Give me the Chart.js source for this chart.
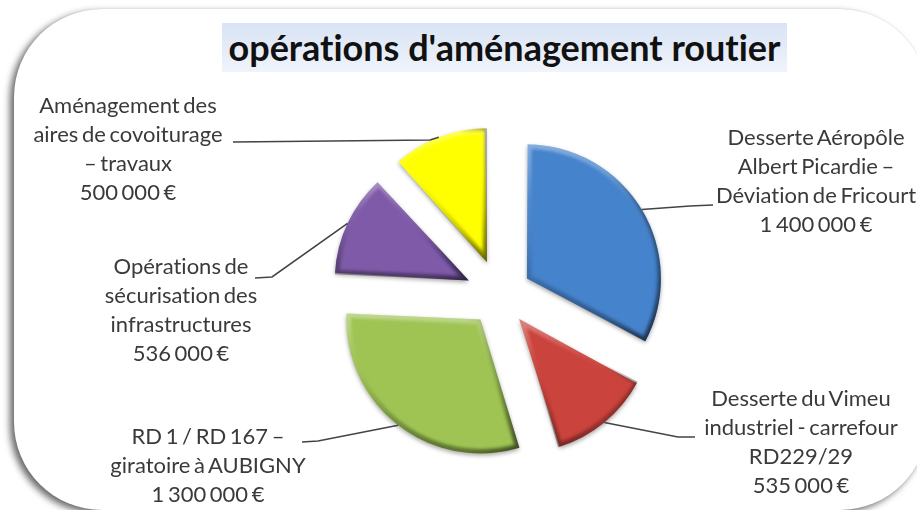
<!DOCTYPE html>
<html lang="fr">
<head>
<meta charset="utf-8">
<title>opérations d'aménagement routier</title>
<script src="https://cdn.jsdelivr.net/npm/chart.js@4"></script>
<style>
    html, body { margin: 0; padding: 0; background: #fff; overflow: hidden; }
    #root { position: relative; width: 917px; height: 510px; overflow: hidden; filter: blur(0.7px); }
    #card {
        position: absolute; left: 14px; top: 9px; width: 914px; height: 501px;
        border-radius: 88px; background: #fff;
        box-shadow: -4px 3px 7px rgba(0, 0, 0, 0.6), 0 0 1px rgba(0, 0, 0, 0.2);
    }
    canvas { position: absolute; left: 0; top: 0; }
    #title {
        position: absolute; left: 222px; top: 23px; width: 565px; height: 49px;
        background: linear-gradient(#d8e3f4, #f0f4fc);
        font: bold 36px Lato, sans-serif; font-variant-ligatures: none;
        line-height: 49px; text-align: center;
        color: #111; white-space: nowrap;
    }
    .label {
        position: absolute; transform: translateX(-50%); text-align: center; white-space: nowrap;
        font: 22px/29px Lato, sans-serif; font-variant-ligatures: none;
        word-spacing: -2px; color: #3a3a3a;
    }
</style>
</head>
<body>
<div id="root">
    <div id="card"></div>
    <canvas id="chart" width="917" height="510"></canvas>
    <div id="title">opérations d'aménagement routier</div>
</div>
<script>
const categories = [
    ["Desserte Aéropôle", "Albert Picardie –", "Déviation de Fricourt", "1 400 000 €"],
    ["Desserte du Vimeu", "industriel - carrefour", "RD229/29", "535 000 €"],
    ["RD 1 / RD 167 –", "giratoire à AUBIGNY", "1 300 000 €"],
    ["Opérations de", "sécurisation des", "infrastructures", "536 000 €"],
    ["Aménagement des", "aires de covoiturage", "– travaux", "500 000 €"],
]
const amounts = [1400000, 535000, 1300000, 536000, 500000]

// look of each slice, same order as the categories
const colors = ["#4583cc", "#cb433d", "#9fc454", "#7e5aa8", "#ffff00"]
const explode = [32, 31, 31, 34, 35]

// where the label blocks sit: centre x, top y
const labelPos = [[816, 122], [801, 383], [208, 421], [181, 251], [128, 90]]
// elbow of the leader line and the end next to the label
const leaderElbow = [[690, 206], [678, 437], [318, 441], [272, 277], [430, 140]]
const leaderEnd = [[713, 205], [695, 437], [302, 442], [255, 278], [233, 142]]

const RADIUS = 134

/**
 * Arc draws a slice moved by offset / 4 and grows its radius a bit,
 * so take that growth back to keep the slices the same size
 */
const radiusFix = {
    id: "radiusFix",
    afterDatasetUpdate(chart) {
        chart.getDatasetMeta(0).data.forEach((arc, i) => {
            const fix = 1 - Math.sin(Math.min(Math.PI, arc.circumference))
            arc.outerRadius = RADIUS - explode[i] * fix
        })
    }
}

/**
 * Soft shadow under the slices, then the bevel on top of them
 */
const sliceLook = {
    id: "sliceLook",
    beforeDatasetDraw(chart) {
        const ctx = chart.ctx
        ctx.save()
        ctx.shadowColor = "rgba(0, 0, 0, 0.35)"
        ctx.shadowBlur = 4
        ctx.shadowOffsetY = 2
    },
    afterDatasetDraw(chart) {
        const ctx = chart.ctx
        ctx.restore()
        chart.getDatasetMeta(0).data.forEach((arc, i) => drawBevel(ctx, arc, explode[i]))
    }
}

/**
 * Stroke the inside of one slice, light on the upper side and dark on the lower one
 * @param {CanvasRenderingContext2D} ctx
 * @param {Object} arc
 * @param {Number} shift
 */
function drawBevel(ctx, arc, shift) {
    const mid = (arc.startAngle + arc.endAngle) / 2
    const x = arc.x + Math.cos(mid) * shift
    const y = arc.y + Math.sin(mid) * shift
    const rimY = [arc.startAngle, mid, arc.endAngle].map(a => y + Math.sin(a) * RADIUS)
    const rimX = [arc.startAngle, mid, arc.endAngle].map(a => x + Math.cos(a) * RADIUS)
    const top = Math.min(y, ...rimY)
    const bottom = Math.max(y, ...rimY)
    const right = Math.max(x, ...rimX)
    const left = Math.min(x, ...rimX)

    const path = new Path2D()
    path.moveTo(x, y)
    path.arc(x, y, RADIUS, arc.startAngle, arc.endAngle)
    path.closePath()

    const down = ctx.createLinearGradient(0, top, 0, bottom)
    down.addColorStop(0, "rgba(255, 255, 255, 0.35)")
    down.addColorStop(0.3, "rgba(255, 255, 255, 0.05)")
    down.addColorStop(0.6, "rgba(0, 0, 0, 0.1)")
    down.addColorStop(1, "rgba(0, 0, 0, 0.4)")

    const across = ctx.createLinearGradient(left, 0, right, 0)
    across.addColorStop(0, "rgba(0, 0, 0, 0)")
    across.addColorStop(0.7, "rgba(0, 0, 0, 0)")
    across.addColorStop(1, "rgba(0, 0, 0, 0.35)")

    ctx.save()
    ctx.clip(path)
    ctx.lineJoin = "miter"
    ctx.filter = "blur(1.5px)"
    ctx.lineWidth = 9
    ctx.strokeStyle = down
    ctx.stroke(path)
    ctx.lineWidth = 5
    ctx.strokeStyle = across
    ctx.stroke(path)
    ctx.restore()
}

/**
 * Lines from the middle of each slice's rim to its label
 */
const leaders = {
    id: "leaders",
    afterDatasetsDraw(chart) {
        const ctx = chart.ctx
        ctx.save()
        ctx.strokeStyle = "#444"
        ctx.lineWidth = 1.6
        chart.getDatasetMeta(0).data.forEach((arc, i) => {
            const mid = (arc.startAngle + arc.endAngle) / 2
            const r = RADIUS + explode[i]
            ctx.beginPath()
            ctx.moveTo(arc.x + Math.cos(mid) * r, arc.y + Math.sin(mid) * r)
            ctx.lineTo(...leaderElbow[i])
            ctx.lineTo(...leaderEnd[i])
            ctx.stroke()
        })
        ctx.restore()
    }
}

function addLabels(root) {
    categories.forEach((lines, i) => {
        const label = document.createElement("div")
        label.className = "label"
        label.style.left = labelPos[i][0] + "px"
        label.style.top = labelPos[i][1] + "px"
        lines.forEach(line => {
            const row = document.createElement("div")
            row.append(line)
            label.append(row)
        })
        root.append(label)
    })
}

function main() {
    addLabels(document.getElementById("root"))
    new Chart(document.getElementById("chart"), {
        type: "pie",
        data: {
            labels: categories.map(lines => lines.join(" ")),
            datasets: [{
                data: amounts,
                backgroundColor: colors,
                borderWidth: 0,
                offset: explode.map(d => d * 4),
                hoverOffset: 0
            }]
        },
        options: {
            responsive: false,
            animation: false,
            radius: RADIUS,
            layout: { padding: { left: 82, top: 80 } },
            plugins: {
                legend: { display: false },
                tooltip: { enabled: false }
            }
        },
        plugins: [radiusFix, sliceLook, leaders]
    })
}

window.onload = main
</script>
</body>
</html>
